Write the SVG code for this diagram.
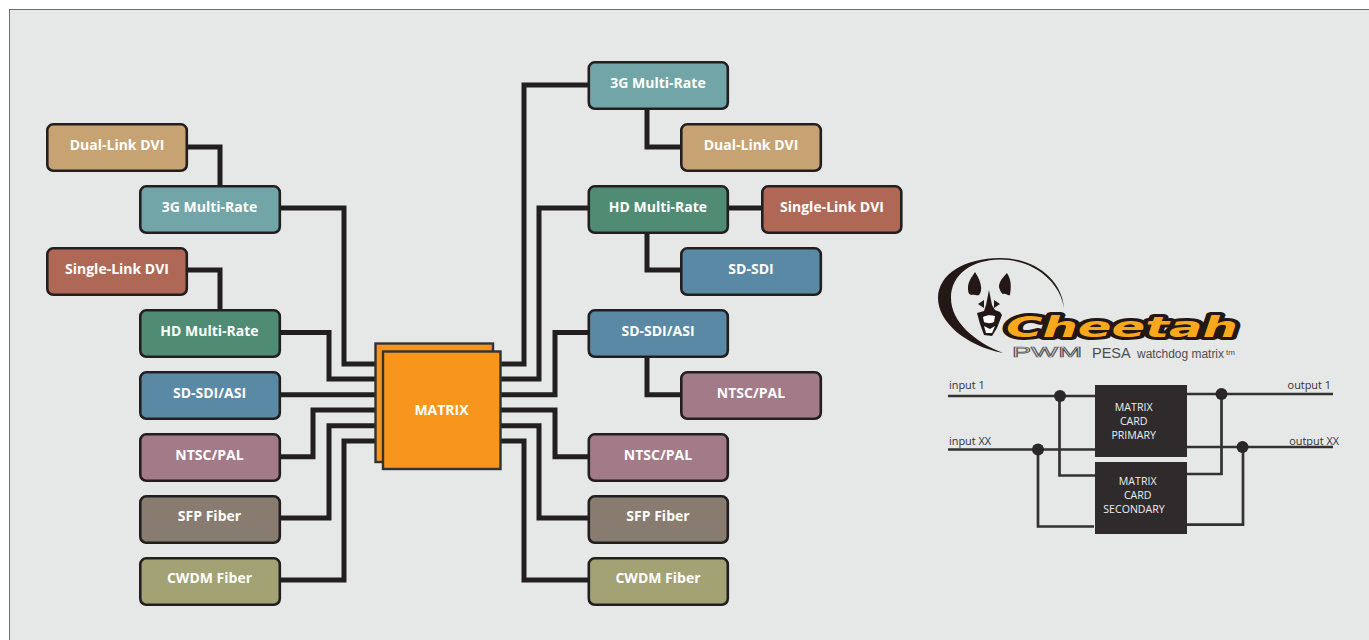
<svg xmlns="http://www.w3.org/2000/svg" width="1369" height="640" viewBox="0 0 1369 640">
<style>
.n{stroke:#231f20;stroke-width:2.6}
.l{font:700 14px "Open Sans",sans-serif;fill:#fff;text-anchor:middle}
.c{fill:none;stroke:#231f20;stroke-width:5;stroke-linejoin:miter}
.t{fill:none;stroke:#333132;stroke-width:2.7}
.d{fill:#2b2728}
.k{fill:#2f2b2c}
.s{font:10.9px "Open Sans",sans-serif;fill:#333132}
.m{font:10.6px "Open Sans",sans-serif;fill:#eee;text-anchor:middle}
</style>
<rect x="9.5" y="9.5" width="1370" height="640" fill="#e6e8e7" stroke="#6d6e70" stroke-width="1"/>
<g id="connectors">
<path class="c" d="M187 147H220V187M280 208H344V364H377M187 270H220V311M280 332.500H329V379H377M280 394.700H377M280 456.700H313V410H377M280 518H329V425.700H377M280 580H344V441H377"/>
<path class="c" d="M588 85H524V364H500M647 108V147H681M588 208H539V379H500M728 208H762M647 232V270H681M588 332.500H555V394.700H500M647 356V394.700H681M588 456.700H555V410H500M588 518H539V425.700H500M588 580H524V441H500"/>
</g>
<g id="matrix">
<rect x="375.500" y="343.500" width="117.500" height="118.500" fill="#f8951d" stroke="#333132" stroke-width="2.400"/>
<rect x="383" y="351.500" width="117.500" height="117.500" fill="#f8951d" stroke="#333132" stroke-width="2.400"/>
<text x="441.500" y="415" class="l">MATRIX</text>
</g>
<g id="l-dual"><rect class="n" x="47.300" y="124.300" width="139.500" height="46.500" rx="6" fill="#c7a273"/><text class="l" x="117" y="150">Dual-Link DVI</text></g>
<g id="l-3g"><rect class="n" x="140.300" y="186.300" width="139.500" height="46.500" rx="6" fill="#72a5a7"/><text class="l" x="209.500" y="212">3G Multi-Rate</text></g>
<g id="l-single"><rect class="n" x="47.300" y="248.300" width="139.500" height="46.500" rx="6" fill="#b06856"/><text class="l" x="117" y="274">Single-Link DVI</text></g>
<g id="l-hd"><rect class="n" x="140.300" y="310.300" width="139.500" height="46.500" rx="6" fill="#508c74"/><text class="l" x="209.500" y="336">HD Multi-Rate</text></g>
<g id="l-sd"><rect class="n" x="140.300" y="372.300" width="139.500" height="46.500" rx="6" fill="#5a89a6"/><text class="l" x="209.500" y="398">SD-SDI/ASI</text></g>
<g id="l-ntsc"><rect class="n" x="140.300" y="434.300" width="139.500" height="46.500" rx="6" fill="#a27a88"/><text class="l" x="209.500" y="460">NTSC/PAL</text></g>
<g id="l-sfp"><rect class="n" x="140.300" y="496.300" width="139.500" height="46.500" rx="6" fill="#887b70"/><text class="l" x="209.500" y="521">SFP Fiber</text></g>
<g id="l-cwdm"><rect class="n" x="140.300" y="558.300" width="139.500" height="46.500" rx="6" fill="#a2a274"/><text class="l" x="209.500" y="583">CWDM Fiber</text></g>
<g id="r-3g"><rect class="n" x="588.800" y="62.300" width="139" height="46.500" rx="6" fill="#72a5a7"/><text class="l" x="658" y="88">3G Multi-Rate</text></g>
<g id="r-dual"><rect class="n" x="681.300" y="124.300" width="139.500" height="46.500" rx="6" fill="#c7a273"/><text class="l" x="751" y="150">Dual-Link DVI</text></g>
<g id="r-hd"><rect class="n" x="588.800" y="186.300" width="139" height="46.500" rx="6" fill="#508c74"/><text class="l" x="658" y="212">HD Multi-Rate</text></g>
<g id="r-single"><rect class="n" x="762.300" y="186.300" width="139" height="46.500" rx="6" fill="#b06856"/><text class="l" x="832" y="212">Single-Link DVI</text></g>
<g id="r-sdi"><rect class="n" x="681.300" y="248.300" width="139.500" height="46.500" rx="6" fill="#5a89a6"/><text class="l" x="751" y="274">SD-SDI</text></g>
<g id="r-sd"><rect class="n" x="588.800" y="310.300" width="139" height="46.500" rx="6" fill="#5a89a6"/><text class="l" x="658" y="336">SD-SDI/ASI</text></g>
<g id="r-ntsc2"><rect class="n" x="681.300" y="372.300" width="139.500" height="46.500" rx="6" fill="#a27a88"/><text class="l" x="751" y="398">NTSC/PAL</text></g>
<g id="r-ntsc"><rect class="n" x="588.800" y="434.300" width="139" height="46.500" rx="6" fill="#a27a88"/><text class="l" x="658" y="460">NTSC/PAL</text></g>
<g id="r-sfp"><rect class="n" x="588.800" y="496.300" width="139" height="46.500" rx="6" fill="#887b70"/><text class="l" x="658" y="521">SFP Fiber</text></g>
<g id="r-cwdm"><rect class="n" x="588.800" y="558.300" width="139" height="46.500" rx="6" fill="#a2a274"/><text class="l" x="658" y="583">CWDM Fiber</text></g>
<g id="logo">
<path fill="#231815" d="M1064 308C1062 280 1035 258 1000 258C965 258 938 274 938 298C938 322 966 346 1003 353C975 342 951 322 951 298C951 274 972 260 1000 259.500C1034 259.500 1060 282 1064 308Z"/>
<path fill="#231815" d="M975 272C971 278 968 282 968 288C968 293 969 294 971 295C974 294 977 296 979 295C982 292 983 284 975 272Z"/>
<path fill="#231815" d="M1007 273C1001 279 999 283 999 287C1000 291 1002 294 1003 294C1006 293 1008 296 1010 295C1011 288 1012 281 1007 273Z"/>
<path fill="#231815" d="M989 290L992 305L995 310L1000 312L1002 315L997 328L992 336L984 335L980 324L977 313L984 311L986 305Z"/>
<path fill="#fff" d="M983 317C987 315 991 315 995 316L994 322C990 324 986 323 984 322Z"/>
<path fill="#fff" d="M984 326L986 333H992L995 326L990 329Z"/>
<path fill="#231815" d="M978 304L984 300V308ZM1000 304L994 300V308Z"/>
<text x="1006" y="336.500" font-family="DejaVu Sans" font-weight="700" font-style="italic" font-size="28" textLength="232" lengthAdjust="spacingAndGlyphs" fill="#f9a71c" stroke="#231815" stroke-width="6" paint-order="stroke" stroke-linejoin="round">Cheetah</text>
<text x="1012" y="357" font-family="Liberation Sans" font-size="14" textLength="70" lengthAdjust="spacingAndGlyphs" fill="#e6e8e7" stroke="#555" stroke-width="0.700">PWM</text>
<text x="1092" y="358" font-family="Liberation Sans" font-size="14.500" fill="#4d4d4d">PESA</text>
<text x="1137" y="358" font-family="Liberation Sans" font-size="12.300" textLength="87" lengthAdjust="spacingAndGlyphs" fill="#4d4d4d">watchdog matrix</text>
<text x="1226" y="355" font-family="Liberation Sans" font-size="8" fill="#4d4d4d">tm</text>
</g>
<g id="card-connectors">
<path class="t" d="M948 396H1095M1059.500 396V475.500H1095M948 449.500H1095M1038 449.500V526.500H1094M1187 394H1333M1221.500 394V474H1187M1187 447H1333M1243 447V524.700H1187"/>
<circle class="d" cx="1060" cy="396" r="6"/><circle class="d" cx="1038" cy="449.500" r="6"/><circle class="d" cx="1221.500" cy="394" r="6"/><circle class="d" cx="1242.500" cy="447" r="6"/>
</g>
<g id="primary"><rect class="k" x="1095" y="385" width="92" height="72"/><text class="m" x="1133.700" y="411">MATRIX</text><text class="m" x="1133.700" y="425">CARD</text><text class="m" x="1133.700" y="439">PRIMARY</text></g>
<g id="secondary"><rect class="k" x="1095" y="462" width="92" height="72"/><text class="m" x="1137.700" y="485">MATRIX</text><text class="m" x="1137.700" y="499">CARD</text><text class="m" x="1134" y="513">SECONDARY</text></g>
<g id="io"><text class="s" x="949" y="389">input 1</text><text class="s" x="949" y="445">input XX</text><text class="s" x="1331" y="389" text-anchor="end">output 1</text><text class="s" x="1339" y="445" text-anchor="end">output XX</text></g>
</svg>
